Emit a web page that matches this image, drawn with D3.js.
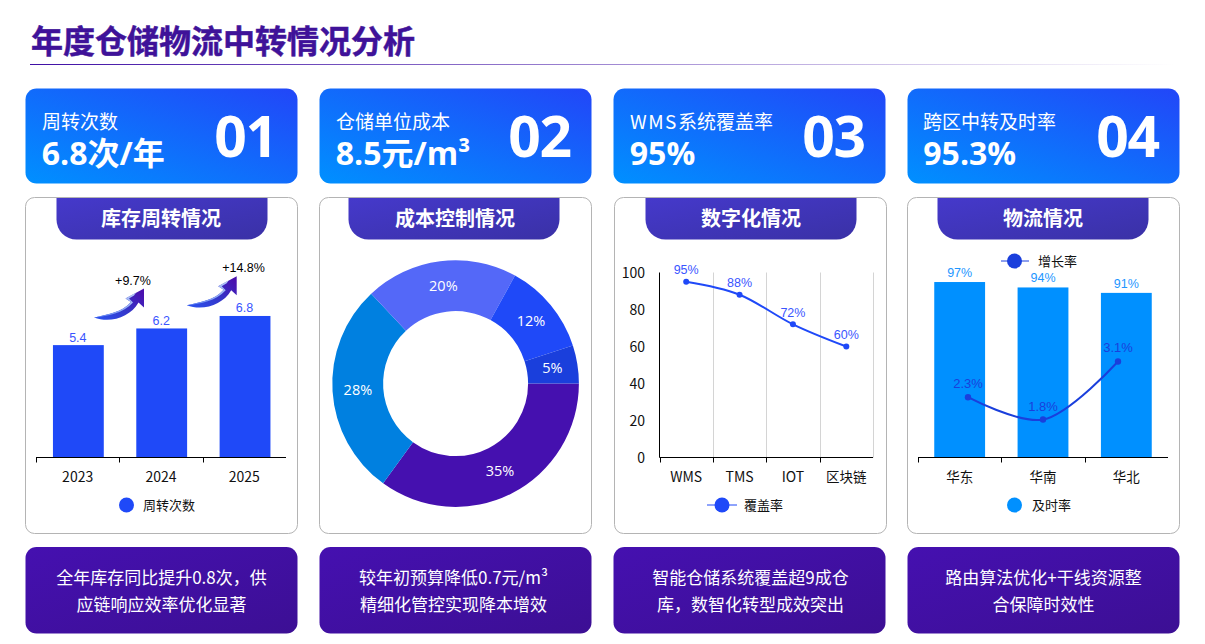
<!DOCTYPE html>
<html lang="zh"><head><meta charset="utf-8">
<script src="https://cdn.jsdelivr.net/npm/d3@7/dist/d3.min.js"></script>
<style>
html,body{margin:0;padding:0;background:#fff;overflow:hidden}
svg{display:block}
text{font-family:"Open Sans","Noto Sans CJK SC",sans-serif}
.cjk{font-family:"Noto Sans CJK SC",sans-serif}
.lat{font-family:"Liberation Sans","Noto Sans CJK SC",sans-serif}
</style></head><body>
<svg id="c" width="1205" height="644"></svg>
<script>
const pageTitle = "年度仓储物流中转情况分析";
const kpiLabels = ["周转次数","仓储单位成本","WMS系统覆盖率","跨区中转及时率"];
const kpiValues = ["6.8次/年","8.5元/m³","95%","95.3%"];
const kpiNumbers = ["01","02","03","04"];
const panelTitles = ["库存周转情况","成本控制情况","数字化情况","物流情况"];
const notes = [
  ["全年库存同比提升0.8次，供","应链响应效率优化显著"],
  ["较年初预算降低0.7元/m³","精细化管控实现降本增效"],
  ["智能仓储系统覆盖超9成仓","库，数智化转型成效突出"],
  ["路由算法优化+干线资源整","合保障时效性"]];
const years = ["2023","2024","2025"];
const turnover = [5.4,6.2,6.8];
const growthLabels = ["+9.7%","+14.8%"];
const costShares = [35,28,20,12,5];
const costColors = ["#4510AF","#0080E0","#5468F8","#1F49F8","#1A3FDC"];
const techs = ["WMS","TMS","IOT","区块链"];
const coverage = [95,88,72,60];
const regions = ["华东","华南","华北"];
const ontime = [97,94,91];
const regionGrowth = [2.3,1.8,3.1];
const yTicks = [0,20,40,60,80,100];

const svg = d3.select("#c");
const defs = svg.append("defs");
function grad(id,x1,y1,x2,y2,stops){
  const g=defs.append("linearGradient").attr("id",id).attr("x1",x1).attr("y1",y1).attr("x2",x2).attr("y2",y2);
  stops.forEach(s=>g.append("stop").attr("offset",s[0]).attr("stop-color",s[1]).attr("stop-opacity",s[2]===undefined?1:s[2]));
}
grad("gKpi",0,1,1,0,[[0,"#0090FF"],[1,"#2246F8"]]);
grad("gTab",0,0,1,1,[[0,"#4539CB"],[1,"#3A31A6"]]);
grad("gNote",0,0,1,1,[[0,"#4510B0"],[1,"#3C0F94"]]);
grad("gRule",0,0,1,0,[[0,"#3F0FA5"],[1,"#3F0FA5",0]]);
grad("gArrow",0,0.8,1,0.2,[[0,"#2C50EC"],[0.55,"#3535C8"],[1,"#4A10AE"]]);
grad("gArrowHi",0,1,1,0,[[0,"#5F84F2"],[1,"#B8CCF6"]]);

const panelX=[25.5,319.5,613.5,907.5], panelW=272;
const boxX=[25.5,319.5,614.5,907.5];
const tabX=[56.5,348.5,645.5,937.5], tabW=211;
const tabCenter=[161,455,751,1043];
const noteCenter=[136,134,137,136];

svg.append("text").attr("class","cjk").attr("x",31).attr("y",53).attr("font-size",32).attr("font-weight",700)
  .attr("fill","#3F1299").attr("stroke","#3F1299").attr("stroke-width",0.5).text(pageTitle);
svg.append("rect").attr("x",30).attr("y",64).attr("width",1145).attr("height",1).attr("fill","url(#gRule)");

panelX.forEach((x,i)=>{
  svg.append("rect").attr("x",x).attr("y",88.5).attr("width",panelW).attr("height",95).attr("rx",11)
    .attr("fill","url(#gKpi)");
  const lab=svg.append("text").attr("class","cjk").attr("x",x+(i==3?15.5:16.5)).attr("y",128.5).attr("font-size",19).attr("fill","#fff");
  const m=kpiLabels[i].match(/^([A-Z]+)(.*)$/);
  if(m){ lab.append("tspan").attr("letter-spacing",1.5).text(m[1]); lab.append("tspan").text(m[2]); }
  else lab.text(kpiLabels[i]);
  svg.append("text").attr("x",x+(i==3?15.8:16.3)).attr("y",165).attr("font-size",32).attr("font-weight",700).attr("fill","#fff").text(kpiValues[i]);
  svg.append("text").attr("x",x+251).attr("y",157).attr("font-size",57).attr("font-weight",700).attr("letter-spacing",-1.5).attr("fill","#fff").attr("text-anchor","end").text(kpiNumbers[i]);
  svg.append("rect").attr("x",boxX[i]).attr("y",197.5).attr("width",panelW).attr("height",336).attr("rx",9)
    .attr("fill","#fff").attr("stroke","#B4B4B4");
  const tx=tabX[i],tw=tabW,ty=198,th=41.5,r=20;
  svg.append("path").attr("d",`M${tx},${ty}H${tx+tw}V${ty+th-r}A${r},${r} 0 0 1 ${tx+tw-r},${ty+th}H${tx+r}A${r},${r} 0 0 1 ${tx},${ty+th-r}Z`)
    .attr("fill","url(#gTab)");
  svg.append("text").attr("class","cjk").attr("x",tabCenter[i]).attr("y",225.5).attr("text-anchor","middle").attr("font-size",20).attr("font-weight",700).attr("fill","#fff").text(panelTitles[i]);
  svg.append("rect").attr("x",x).attr("y",547).attr("width",panelW).attr("height",86.5).attr("rx",11).attr("fill","url(#gNote)");
  notes[i].forEach((t,k)=>svg.append("text").attr("class","cjk").attr("x",x+noteCenter[i]).attr("y",584+k*27).attr("text-anchor","middle").attr("font-size",17).attr("fill","#fff").text(t));
});

const baseY=457.5;
function xAxisG(x0,x1,scale,labels){
  const g=svg.append("g").attr("transform",`translate(0,${baseY})`);
  g.append("line").attr("x1",x0).attr("x2",x1).attr("stroke","#000");
  const step=scale.step();
  d3.range(labels.length).forEach(i=>{
    const tx=Math.round(x0+i*step)+0.5;
    g.append("line").attr("x1",tx).attr("x2",tx).attr("y2",5).attr("stroke","#000");
  });
  labels.forEach(l=>g.append("text").attr("x",scale(l)+scale.bandwidth()/2).attr("y",24.5).attr("text-anchor","middle")
    .attr("font-size",/^[A-Z0-9]+$/.test(l)?14:13.5).attr("class","cjk").attr("fill","#111").text(l));
}

// ---- chart 1
{
  const x=d3.scaleBand().domain(years).range([36.7,286.7]).paddingInner(0.39).paddingOuter(0.195);
  const y=d3.scaleLinear().domain([0,8]).range([baseY,291]);
  svg.selectAll(".b1").data(years).join("rect").attr("x",d=>x(d)).attr("width",x.bandwidth())
    .attr("y",(d,i)=>y(turnover[i])).attr("height",(d,i)=>baseY-y(turnover[i])).attr("fill","#1F49F8");
  svg.selectAll(".l1").data(years).join("text").attr("class","lat").attr("x",d=>x(d)+x.bandwidth()/2-0.5)
    .attr("y",(d,i)=>y(turnover[i])-3.5).attr("text-anchor","middle").attr("font-size",12.5).attr("fill","#3A55FF").text((d,i)=>turnover[i]);
  xAxisG(36,286,d3.scaleBand().domain(years).range([36,286]),years);
  const arrowAt=[[94,317.5,133,285],[186.7,305.3,243.5,272]];
  arrowAt.forEach((a,i)=>{
    const g=svg.append("g").attr("transform",`translate(${a[0]},${a[1]})`);
    g.append("path").attr("d","M0,0C13,-3 28,-5 37,-15.5L31.5,-19L50,-29L50,-10L44.5,-15C36,0 16,6 0,0Z").attr("fill","url(#gArrow)");
    g.append("path").attr("d","M0,0C13,-3 28,-5 37,-15.5L31.5,-19L42,-25L40,-22L35,-19L39,-15C29,-4 14,-1.5 0,0Z").attr("fill","url(#gArrowHi)");
    svg.append("text").attr("class","lat").attr("x",a[2]).attr("y",a[3]).attr("text-anchor","middle").attr("font-size",12.5).attr("fill","#000").text(growthLabels[i]);
  });
  svg.append("circle").attr("cx",126.5).attr("cy",505).attr("r",7.5).attr("fill","#1F49F8");
  svg.append("text").attr("class","cjk").attr("x",143).attr("y",510).attr("font-size",13).attr("fill","#111").text("周转次数");
}

// ---- chart 2
{
  const cx=455.6, cy=383.6;
  const pie=d3.pie().sort(null).startAngle(Math.PI/2).endAngle(Math.PI*2.5)(costShares);
  const arc=d3.arc().innerRadius(72.5).outerRadius(123.3);
  const g=svg.append("g").attr("transform",`translate(${cx},${cy})`);
  g.selectAll("path").data(pie).join("path").attr("d",arc).attr("fill",(d,i)=>costColors[i]);
  g.selectAll("text").data(pie).join("text").attr("transform",d=>`translate(${arc.centroid(d)})`)
    .attr("text-anchor","middle").attr("dy","0.33em").attr("font-size",14.5).attr("fill","#fff").text(d=>d.data+"%");
}

// ---- chart 3
{
  const x=d3.scaleBand().domain(techs).range([659.5,873]);
  const y=d3.scaleLinear().domain([0,100]).range([baseY,272.5]);
  techs.forEach((t,i)=>{ if(i==0) return;
    svg.append("line").attr("x1",Math.round(x(t))+.5).attr("x2",Math.round(x(t))+.5).attr("y1",272.5).attr("y2",baseY).attr("stroke","#D4D4D4");});
  svg.append("line").attr("x1",873.5).attr("x2",873.5).attr("y1",272.5).attr("y2",baseY).attr("stroke","#D4D4D4");
  svg.append("line").attr("x1",659.5).attr("x2",659.5).attr("y1",272.5).attr("y2",baseY).attr("stroke","#000");
  yTicks.forEach(t=>svg.append("text").attr("class","cjk").attr("x",645).attr("y",y(t)+5).attr("text-anchor","end").attr("font-size",14).attr("fill","#111").text(t));
  xAxisG(659.5,873,x,techs);
  const px=(d,i)=>x(techs[i])+x.bandwidth()/2;
  const line=d3.line().x(px).y(d=>y(d)).curve(d3.curveMonotoneX);
  svg.append("path").attr("d",line(coverage)).attr("fill","none").attr("stroke","#1F49F8").attr("stroke-width",2);
  svg.selectAll(".p3").data(coverage).join("circle").attr("cx",px).attr("cy",d=>y(d)).attr("r",3).attr("fill","#1F49F8");
  svg.selectAll(".t3").data(coverage).join("text").attr("class","lat").attr("x",px).attr("y",d=>y(d)-7.5).attr("text-anchor","middle").attr("font-size",12.5).attr("fill","#3A55FF").text(d=>d+"%");
  svg.append("line").attr("x1",707).attr("x2",737).attr("y1",505).attr("y2",505).attr("stroke","#1F49F8");
  svg.append("circle").attr("cx",722).attr("cy",505).attr("r",7.5).attr("fill","#1F49F8");
  svg.append("text").attr("class","cjk").attr("x",744).attr("y",510).attr("font-size",13).attr("fill","#111").text("覆盖率");
}

// ---- chart 4
{
  const x=d3.scaleBand().domain(regions).range([918,1168]).paddingInner(0.39).paddingOuter(0.195);
  const y=d3.scaleLinear().domain([0,100]).range([baseY,276.6]);
  svg.selectAll(".b4").data(regions).join("rect").attr("x",d=>x(d)).attr("width",x.bandwidth())
    .attr("y",(d,i)=>y(ontime[i])).attr("height",(d,i)=>baseY-y(ontime[i])).attr("fill","#0090FF");
  svg.selectAll(".l4").data(regions).join("text").attr("class","lat").attr("x",d=>x(d)+x.bandwidth()/2)
    .attr("y",(d,i)=>y(ontime[i])-5).attr("text-anchor","middle").attr("font-size",12.5).attr("fill","#1E96FF").text((d,i)=>ontime[i]+"%");
  xAxisG(918,1168,d3.scaleBand().domain(regions).range([918,1168]),regions);
  const lx=d3.scalePoint().domain(regions).range([968,1118]);
  const ly=d3.scaleLinear().domain([0.95,5]).range([baseY,276.6]);
  const line=d3.line().x((d,i)=>lx(regions[i])).y(d=>ly(d)).curve(d3.curveCatmullRom.alpha(0.5));
  svg.append("path").attr("d",line(regionGrowth)).attr("fill","none").attr("stroke","#1A3FDC").attr("stroke-width",2);
  svg.selectAll(".p4").data(regionGrowth).join("circle").attr("cx",(d,i)=>lx(regions[i])).attr("cy",d=>ly(d)).attr("r",3.2).attr("fill","#1A3FDC");
  svg.selectAll(".t4").data(regionGrowth).join("text").attr("class","lat").attr("x",(d,i)=>lx(regions[i])).attr("y",d=>ly(d)-9).attr("text-anchor","middle").attr("font-size",13).attr("fill","#1A3FDC").text(d=>d+"%");
  svg.append("line").attr("x1",1001).attr("x2",1029).attr("y1",261).attr("y2",261).attr("stroke","#1A3FDC");
  svg.append("circle").attr("cx",1014.5).attr("cy",261).attr("r",7.5).attr("fill","#1A3FDC");
  svg.append("text").attr("class","cjk").attr("x",1038).attr("y",266).attr("font-size",13).attr("fill","#111").text("增长率");
  svg.append("circle").attr("cx",1014.5).attr("cy",505).attr("r",7.5).attr("fill","#0090FF");
  svg.append("text").attr("class","cjk").attr("x",1032).attr("y",510).attr("font-size",13).attr("fill","#111").text("及时率");
}
</script></body></html>
